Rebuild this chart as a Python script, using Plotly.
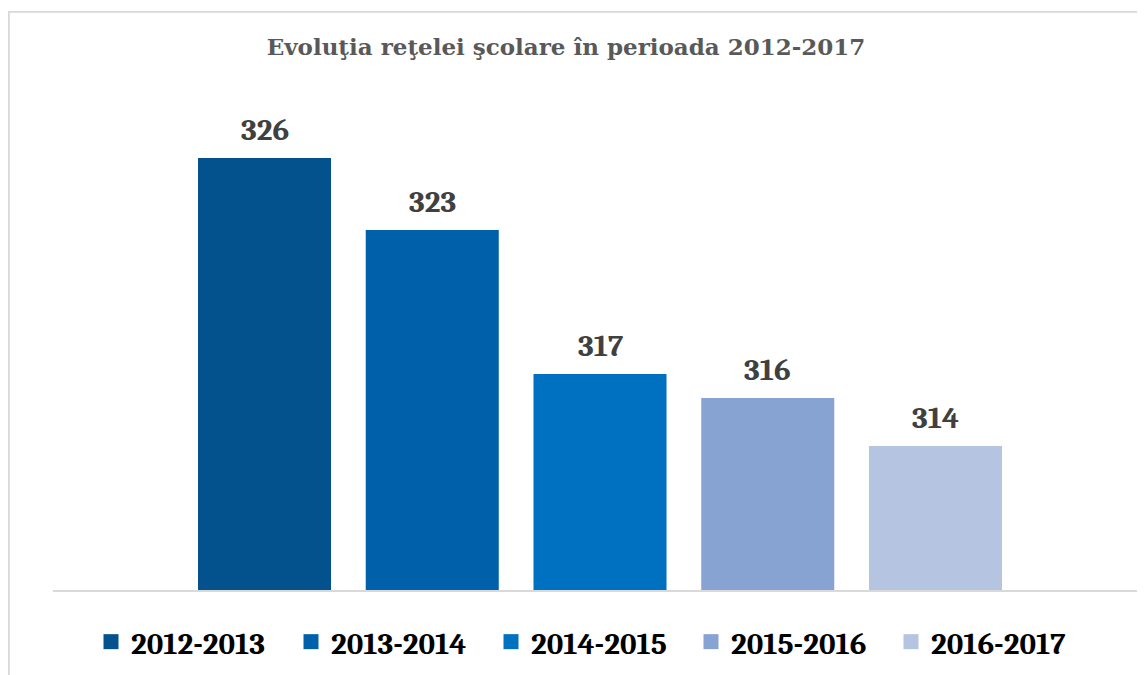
import plotly.graph_objects as go

title_text = "Evoluţia reţelei şcolare în perioada 2012-2017"
periods = ["2012-2013", "2013-2014", "2014-2015", "2015-2016", "2016-2017"]
values = [326, 323, 317, 316, 314]
colors = ["#03528E", "#0061AA", "#0070C0", "#87A3D1", "#B5C4E1"]

# page has an 8px body margin, so figure pixel = page pixel - 8
OFF = 8
W, H = 1145 - OFF, 675 - OFF
L, R = 53 - OFF, 0
T = 110 - OFF
B = H - (590 - OFF)
plot_w = W - L - R
plot_h = H - T - B
slot = 167.75
center_px = (600 - OFF) - L
x0 = 2 - center_px / slot
x1 = x0 + plot_w / slot

FONT = "Cambria, 'Liberation Serif', serif"
TFONT = "'DejaVu Serif', serif"

fig = go.Figure()
for i, (p, v, c) in enumerate(zip(periods, values, colors)):
    fig.add_trace(go.Bar(
        x=[i], y=[v], name=p, marker=dict(color=c, line=dict(width=0)),
        width=0.793, showlegend=False,
    ))
    fig.add_annotation(
        x=i, y=v, text=str(v), showarrow=False, yanchor="bottom", yshift=8,
        font=dict(family=FONT, size=31, color="#404040", weight="bold"),
    )
for p, c in zip(periods, colors):
    fig.add_trace(go.Scatter(
        x=[None], y=[None], mode="markers", name=p,
        marker=dict(symbol="square", size=15, color=c, line=dict(width=0)),
    ))

def px_x(px):
    return (px - OFF - L) / plot_w

def px_y(py):
    return (H - B - (py - OFF)) / plot_h

border = dict(color="#D9D9D9", width=1.8)
fig.add_shape(type="line", xref="paper", yref="paper",
              x0=px_x(8.9), x1=px_x(8.9), y0=px_y(11.8), y1=px_y(700), line=border)
fig.add_shape(type="line", xref="paper", yref="paper",
              x0=px_x(8), x1=px_x(1160), y0=px_y(11.8), y1=px_y(11.8), line=border)

fig.update_layout(
    width=W, height=H,
    margin=dict(l=L, r=R, t=T, b=B),
    paper_bgcolor="white", plot_bgcolor="white",
    barmode="overlay",
    title=dict(text=title_text, x=(566 - OFF) / W, xanchor="center",
               y=1 - (47 - OFF) / H, yanchor="middle",
               xref="container", yref="container",
               font=dict(family=TFONT, size=23, color="#595959", weight="bold")),
    xaxis=dict(range=[x0, x1], showticklabels=False, showgrid=False, zeroline=False,
               showline=True, linecolor="#D9D9D9", linewidth=1.5, fixedrange=True),
    yaxis=dict(range=[308, 328], visible=False, showgrid=False, zeroline=False),
    legend=dict(orientation="h", x=px_x(591), xanchor="center", y=px_y(642), yanchor="middle",
                font=dict(family=FONT, size=31, color="#000000", weight="bold"),
                entrywidth=155, entrywidthmode="pixels", itemclick=False,
                itemsizing="trace"),
    showlegend=True,
)

fig.write_html("out.html")
